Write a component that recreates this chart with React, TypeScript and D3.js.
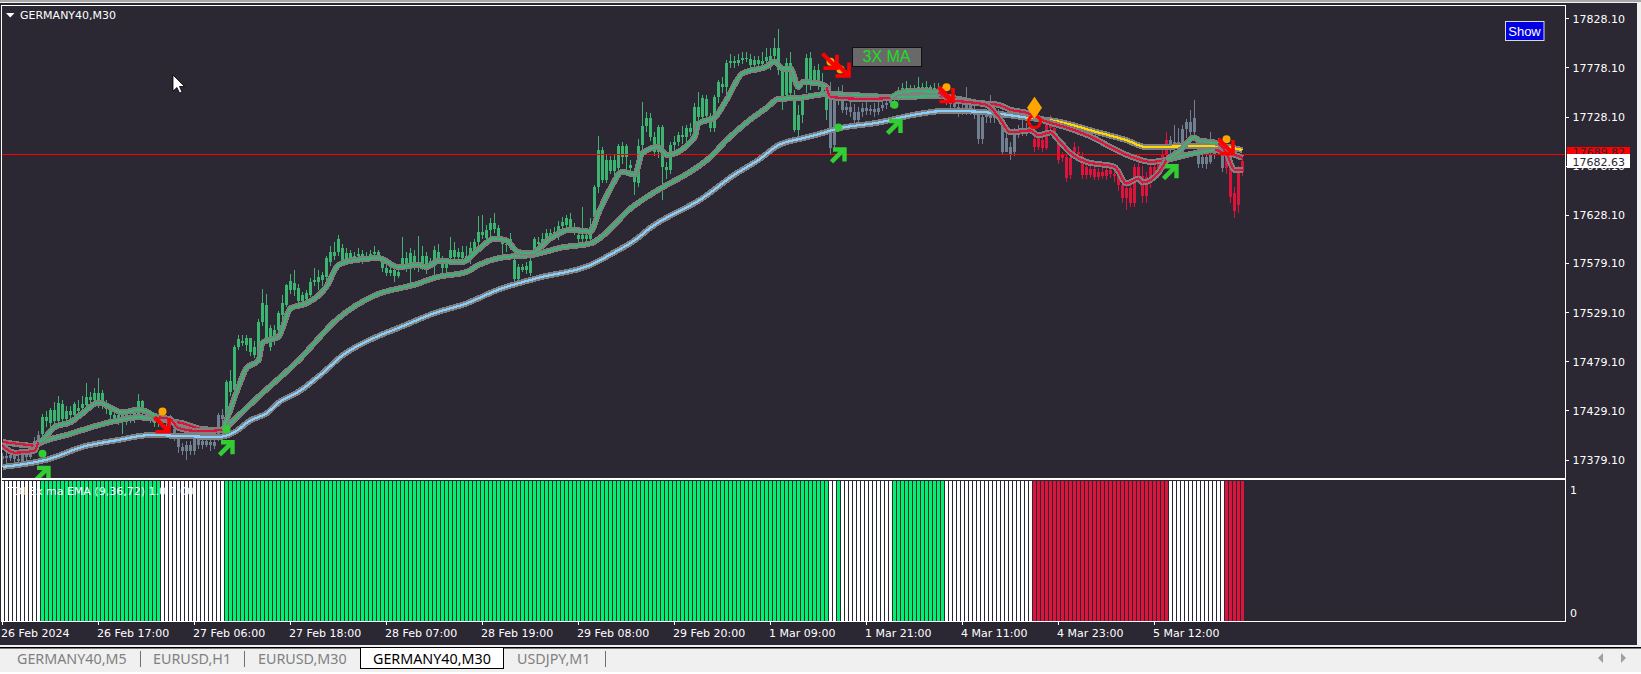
import * as d3 from "d3";

const width = 1641;
const height = 674;
const bg = "#2b2733";
const priceBase = 17000;

// price axis
const priceTicks = [17828.1, 17778.1, 17728.1, 17678.1, 17628.1, 17579.1, 17529.1, 17479.1, 17429.1, 17379.1];
const bidPrice = 17689.82;
const lastPrice = 17682.63;

// time axis, one label every 24 bars
const timeLabels = [
  "26 Feb 2024", "26 Feb 17:00", "27 Feb 06:00", "27 Feb 18:00", "28 Feb 07:00", "28 Feb 19:00", "29 Feb 08:00",
  "29 Feb 20:00", "1 Mar 09:00", "1 Mar 21:00", "4 Mar 11:00", "4 Mar 23:00", "5 Mar 12:00",
];
const tabNames = ["GERMANY40,M5", "EURUSD,H1", "EURUSD,M30", "GERMANY40,M30", "USDJPY,M1"];

// indicator state per run of bars
const stateNames = ["flat", "up", "flat", "up", "flat", "up", "flat", "up", "flat", "down", "flat", "down"];
const stateCounts = [10, 30, 16, 151, 2, 1, 13, 13, 22, 34, 14, 5];

// open, close, high, low minus priceBase
const ohlcFeb26: number[][] = [
  [380,383,386,372],[383,381,388,376],[381,384,390,378],[384,380,387,375],[380,378,384,373],[378,384,387,376],[384,382,388,378],[382,386,390,380],
  [386,398,402,385],[398,404,408,396],[405,422,425,400],[422,418,428,412],[416,429,432,412],[429,418,438,414],[418,437,444,410],[436,420,440,412],
  [420,428,434,418],[428,424,434,420],[424,436,438,420],[428,432,440,424],[432,436,444,428],[435,443,457,430],[443,440,448,434],[440,447,452,436],
  [438,447,462,432],[447,436,450,430],[436,430,440,425],[430,424,433,419],[424,420,428,415],[420,424,428,414],[424,418,430,405],[418,424,428,414],
  [424,420,430,416],[420,426,430,416],[425,439,446,422],[439,427,440,424],[427,425,432,420],[425,421,428,416],[421,416,424,412],[416,420,424,412],
  [420,418,424,412],[418,416,422,410],[416,420,424,412],[410,404,414,398],[404,392,406,386],[392,388,396,384],[388,394,398,379],[394,388,398,384],
];
const ohlcFeb27: number[][] = [
  [388,400,404,384],[400,394,406,390],[394,398,402,390],[398,394,402,392],[394,397,400,388],[397,393,400,390],[400,424,426,398],[424,420,430,415],
  [420,458,460,418],[459,448,470,444],[450,494,496,440],[494,502,506,491],[498,500,506,495],[503,496,506,490],[503,488,503,484],[485,494,500,482],
  [484,519,522,480],[519,538,553,515],[536,501,548,498],[494,513,516,490],[511,500,516,496],[511,528,530,508],[526,538,546,522],[536,557,558,534],
  [552,561,568,548],[559,552,572,545],[554,540,558,534],[540,547,550,536],[542,549,552,538],[547,560,564,544],[560,562,574,556],[560,565,572,552],
  [562,567,570,556],[565,584,586,562],[580,590,596,576],[590,586,600,582],[590,603,608,586],[594,582,598,578],[582,589,594,578],[589,584,592,578],
  [584,586,590,580],[586,588,594,582],[588,584,592,578],[584,586,590,580],[586,588,592,582],[588,590,596,584],[590,586,592,582],[580,574,584,570],
];
const ohlcFeb28: number[][] = [
  [574,569,578,566],[569,572,576,566],[572,566,578,560],[566,570,574,564],[577,584,606,572],[584,578,590,570],[589,574,594,556],[574,586,592,572],
  [574,579,607,570],[579,586,596,572],[586,578,590,568],[578,581,584,574],[581,592,596,566],[590,583,598,578],[583,574,586,568],[574,580,584,570],
  [584,592,606,578],[592,585,600,578],[585,590,594,580],[590,584,596,578],[584,586,596,580],[586,594,600,578],[590,600,604,586],[600,611,627,596],
  [611,608,628,604],[605,613,618,600],[613,620,625,606],[620,614,630,610],[615,602,618,600],[602,598,604,586],[598,597,604,590],[597,604,610,592],
  [582,563,584,560],[563,575,578,558],[575,572,578,570],[572,576,580,568],[581,569,586,566],[590,603,606,586],[600,598,606,592],[598,604,610,594],
  [604,610,614,600],[610,607,614,602],[607,611,616,602],[606,617,622,602],[617,621,626,612],[618,625,628,614],[624,615,630,612],[615,612,620,608],
];
const ohlcFeb29: number[][] = [
  [608,604,612,600],[604,608,636,600],[608,604,614,600],[604,616,625,600],[626,656,658,618],[656,694,708,650],[694,664,697,660],[664,684,690,660],
  [684,673,688,670],[673,684,690,662],[676,698,700,672],[698,687,702,680],[687,698,700,674],[676,679,684,670],[669,661,673,648],[660,698,705,656],
  [699,719,743,695],[719,727,733,712],[727,707,732,703],[707,692,712,688],[692,717,720,686],[717,677,720,643],[677,674,682,665],[674,699,702,670],
  [699,702,708,694],[702,709,712,698],[709,707,718,700],[707,716,720,702],[716,712,722,708],[712,738,742,708],[738,728,753,722],[728,747,750,722],
  [746,729,750,724],[729,716,732,712],[716,748,750,712],[748,763,765,742],[761,758,768,752],[758,783,786,746],[783,785,792,778],[785,783,790,778],
  [783,786,792,780],[786,788,794,782],[788,787,794,784],[787,781,792,778],[781,786,790,776],[786,782,790,778],[782,785,794,778],[785,789,798,780],
];
const ohlcMar1: number[][] = [
  [785,790,798,775],[790,798,808,782],[798,775,817,770],[775,748,780,735],[750,783,788,746],[783,752,794,748],[745,714,755,712],[714,730,740,708],
  [730,745,750,722],[760,788,792,752],[788,762,794,755],[765,775,780,760],[775,762,782,755],[762,752,772,748],[755,735,760,725],[747,696,763,689],
  [699,745,750,695],[745,748,758,740],[748,735,760,732],[735,738,742,730],[738,733,745,728],[733,725,741,722],[725,733,738,720],[733,737,742,728],
  [737,734,744,730],[734,736,740,730],[736,733,742,728],[733,737,744,730],[737,740,750,734],[740,742,748,736],[742,745,750,738],[745,748,752,742],
  [748,750,758,744],[750,757,762,746],[757,752,764,748],[752,755,760,748],[755,752,760,748],[752,758,768,750],[758,755,762,750],[755,758,764,750],
  [758,753,760,748],[753,757,762,748],[757,754,762,750],[754,750,758,746],[750,745,752,740],[745,741,750,736],[741,738,746,732],[738,733,742,728],
];
const ohlcMar4: number[][] = [
  [733,736,745,730],[736,740,758,730],[740,735,744,730],[735,730,740,726],[730,705,733,700],[705,728,733,700],[728,730,736,722],[730,727,750,722],
  [727,731,735,722],[731,728,736,724],[723,692,728,690],[692,706,712,692],[697,690,702,684],[692,712,716,688],[712,710,720,706],[712,716,730,708],
  [716,714,722,708],[714,718,722,710],[705,697,712,692],[697,707,710,694],[704,696,708,692],[696,721,726,694],[721,716,730,710],[716,712,720,706],
  [701,684,704,680],[689,686,692,682],[687,666,690,662],[686,669,690,665],[697,692,702,688],[692,690,698,684],[682,669,692,665],[677,669,682,665],
  [669,675,680,666],[675,667,680,664],[667,672,676,664],[672,668,676,665],[668,674,678,664],[674,670,678,666],[670,668,676,662],[668,658,672,652],
];
const ohlcMar5: number[][] = [
  [658,645,662,640],[645,655,658,633],[655,640,660,636],[640,677,680,636],[677,668,690,664],[668,647,678,640],[647,667,672,640],[667,677,680,655],
  [677,670,682,664],[670,680,684,666],[676,690,700,672],[690,704,712,686],[704,698,708,690],[698,702,720,690],[702,691,716,686],[691,715,720,686],
  [715,723,726,706],[723,712,735,705],[712,727,745,705],[699,680,704,676],[680,687,692,676],[687,680,692,675],[682,690,712,680],[690,695,700,685],
  [695,700,706,690],[689,676,695,672],[676,686,694,670],[680,646,690,640],[650,632,656,625],[638,672,678,630],[672,682.63,686,668],
];

// moving averages: bar index and price minus priceBase, read at the turning points
const slowBars = [0,12,20,29,37,45,54,58,62,66,69,74,80,85,93,99,108,116,124,134,147,153,158,162,175,183,189,194,200,203,209,219,228,236,244,256,264,273,281,286,298,304,310];
const slowVals = [371.5,380,392,399,404,403,402,407,419,426,437,448,467,485,503,513,528,538,552,564,577,590,602,615,645,669,684,699,706,709,716,722,730,734,733,727,723,713,704,697,698,698,694];
const midBars = [0,8,10,16,24,29,34,39,45,50,55,58,64,74,84,93,103,109,116,119,124,128,132,140,147,153,156,161,165,172,177,181,186,191,194,199,206,223,234,239,244,249,252,256,261,266,273,277,283,287,291,296,303,306,310];
const midVals = [397,393,397,404,414,419,422,420,416,410,409,420,443,480,523,546,557,565,570,577,584,586,587,595,599,618,631,646,656,672,687,704,722,737,746,747,751,748,749,746,742,740,735,732,723,717,706,697,686,682,684,689,694,692,686];
const fastBars = [0,3,8,9,10,13,17,20,24,27,30,34,39,42,44,49,55,56,59,61,64,65,69,72,76,81,84,88,94,99,104,106,109,115,119,123,126,129,132,137,142,147,149,152,155,158,160,164,166,173,174,178,181,185,191,193,195,197,199,200,204,206,207,216,222,224,228,234,237,241,246,249,252,257,259,262,264,267,271,278,281,284,285,289,291,294,298,299,304,306,308,310];
const fastVals = [393,386,388,397,399,412,417,426,437,432,427,430,422,420,411,408,409,419,453,472,480,498,504,533,538,555,577,582,584,575,577,575,581,580,593,604,602,590,589,604,613,611,630,655,672,669,691,697,689,707,721,727,745,772,779,784,777,777,758,763,762,758,748,746,747,752,754,753,745,743,740,728,712,714,709,712,704,691,682,677,660,665,661,671,684,692,707,704,701,691,674,674];

// colour runs of each moving average, as [first bar, last bar]
const fastRed = [[0,9],[42,55],[207,223],[237,291],[306,310]];
const fastGreen = [[10,41],[56,206],[224,236],[292,305]];
const midRed = [[0,9],[40,55],[237,291],[306,310]];
const midGreen = [[10,39],[56,236],[292,305]];
const slowSky = [[0,258]];
const slowGold = [[259,310]];

// signal markers: bar index and price minus priceBase
const greenArrowBars = [10,56,209,223,292];
const greenArrowVals = [365,391,689,718,672];
const greenDotBars = [10,56,209,223];
const greenDotVals = [385,410,717,740];
const redArrowBars = [40,207,210,236,306];
const redArrowVals = [414,784,776,750,697];
const orangeDotBars = [40,207,209.5,236,306];
const orangeDotVals = [428,784,776,758,705];

const states = stateNames.flatMap((s, i) => d3.range(stateCounts[i]).map(() => s));
const ohlc = [...ohlcFeb26, ...ohlcFeb27, ...ohlcFeb28, ...ohlcFeb29, ...ohlcMar1, ...ohlcMar4, ...ohlcMar5];

const x = d3.scaleLinear().domain([0, 310]).range([2.5, 1242.5]);
const y = d3.scaleLinear().domain([17379.1, 17828.1]).range([459.5, 18.3]);
const yInd = d3.scaleLinear().domain([-0.065, 1.065]).range([621, 481]);

const candleColor: Record<string, string> = { flat: "#708090", up: "#3cb371", down: "#dc143c" };
const barColor: Record<string, string> = { flat: "#ffffff", up: "#00f070", down: "#dc143c" };

const maLine = d3
  .line<[number, number]>()
  .x(d => x(d[0]))
  .y(d => y(priceBase + d[1]))
  .curve(d3.curveMonotoneX);

function zipped(bars: number[], vals: number[]): [number, number][] {
  return bars.map((b, i) => [b, vals[i]]);
}

// one piece per run, joined to the last knot before it
function piece(pts: [number, number][], run: number[]) {
  const inside = pts.filter(p => p[0] >= run[0] && p[0] <= run[1]);
  const prev = pts.filter(p => p[0] < run[0]).pop();
  return maLine(prev ? [prev, ...inside] : inside) || undefined;
}

const uiFont = "'DejaVu Sans', sans-serif";

function MaTrace({ bars, vals, runs }: { bars: number[]; vals: number[]; runs: { color: string; list: number[][] }[] }) {
  const pts = zipped(bars, vals);
  return (
    <g fill="none" shapeRendering="crispEdges">
      <path d={maLine(pts) || undefined} stroke="#808080" strokeWidth={6} />
      {runs.map(r =>
        r.list.map((run, i) => <path key={r.color + i} d={piece(pts, run)} stroke={r.color} strokeWidth={2.2} />)
      )}
    </g>
  );
}

export default function App() {
  const tabX = [17, 153, 258, 373, 517];
  const tabSeps = [140, 244, 605];
  return (
    <svg width={width} height={height} style={{ position: "absolute", left: 0, top: 0, display: "block" }}>
      <defs>
        <clipPath id="mainPane">
          <rect x={2} y={6} width={1563} height={472} />
        </clipPath>
      </defs>
      <rect width={width} height={height} fill="#f0f0f0" />
      <rect width={width} height={2} fill="#a8a8a8" />
      <rect y={3} width={1637} height={642} fill={bg} />
      <rect y={647} width={1641} height={1.5} fill="#000" />
      <rect y={672} width={1641} height={2} fill="#fff" />

      {/* panes */}
      <g fill="none" stroke="#fff" shapeRendering="crispEdges">
        <rect x={1.5} y={5.5} width={1564} height={473} />
        <rect x={1.5} y={479.5} width={1564} height={141.5} />
      </g>

      {/* indicator histogram */}
      <g shapeRendering="crispEdges">
        {states.map((s, i) => (
          <rect key={i} x={x(i) - 1.5} width={3} y={yInd(1.065)} height={yInd(-0.065) - yInd(1.065)} fill={barColor[s]} />
        ))}
      </g>
      <text x={7} y={495} fill="#fff" fontFamily={uiFont} fontSize={11}>TDI 3x ma EMA (9,36,72) 1.0 1.00</text>

      {/* candles */}
      <g clipPath="url(#mainPane)">
        <g shapeRendering="crispEdges">
          {ohlc.map(([o, c, h, l], i) => (
            <g key={i} fill={candleColor[states[i]]}>
              <rect x={x(i) - 0.5} width={1} y={y(priceBase + h)} height={y(priceBase + l) - y(priceBase + h)} />
              <rect
                x={x(i) - 1.5}
                width={3}
                y={y(priceBase + Math.max(o, c))}
                height={Math.max(1, Math.abs(y(priceBase + o) - y(priceBase + c)))}
              />
            </g>
          ))}
        </g>
        <line x1={2} x2={1565} y1={y(bidPrice)} y2={y(bidPrice)} stroke="#ff0000" shapeRendering="crispEdges" />

        <MaTrace bars={slowBars} vals={slowVals} runs={[{ color: "#87cefa", list: slowSky }, { color: "#ffd700", list: slowGold }]} />
        <MaTrace bars={midBars} vals={midVals} runs={[{ color: "#dc143c", list: midRed }, { color: "#3cb371", list: midGreen }]} />
        <MaTrace bars={fastBars} vals={fastVals} runs={[{ color: "#dc143c", list: fastRed }, { color: "#3cb371", list: fastGreen }]} />

        {/* signals */}
        {orangeDotBars.map((b, i) => (
          <circle key={i} cx={x(b)} cy={y(priceBase + orangeDotVals[i])} r={4} fill="#ffa500" />
        ))}
        {redArrowBars.map((b, i) => (
          <g key={i} transform={`translate(${x(b)},${y(priceBase + redArrowVals[i])})`} fill="none" stroke="#ff0000">
            <line x1={-8} y1={-8} x2={6} y2={6} strokeWidth={4.2} />
            <polyline points="-7,6.5 6.5,6.5 6.5,-7" strokeWidth={3.6} />
          </g>
        ))}
        {greenArrowBars.map((b, i) => (
          <g key={i} transform={`translate(${x(b)},${y(priceBase + greenArrowVals[i])})`} fill="none" stroke="#32cd32">
            <line x1={-7} y1={7} x2={5} y2={-5} strokeWidth={4.6} />
            <polyline points="-5.5,-5.5 6,-5.5 6,6.5" strokeWidth={4.4} />
          </g>
        ))}
        {greenDotBars.map((b, i) => (
          <circle key={i} cx={x(b)} cy={y(priceBase + greenDotVals[i])} r={4} fill="#32cd32" />
        ))}
        <g transform={`translate(${x(258)},${y(priceBase + 723)})`}>
          <circle r={6} fill="none" stroke="#ff0000" strokeWidth={3} />
        </g>
        <g transform={`translate(${x(258)},${y(priceBase + 737)})`}>
          <path d={d3.line()([[0, -11], [7.5, 0], [0, 11], [-7.5, 0]]) + "Z"} fill="#ffa500" />
        </g>
      </g>

      {/* chart title and objects */}
      <path d="M6,13 h8.5 l-4.25,4.5 z" fill="#fff" />
      <text x={20} y={19} fill="#fff" fontFamily={uiFont} fontSize={11}>GERMANY40,M30</text>
      <path d="M173,75 v16 l4,-3.5 l2.5,5.5 l2.5,-1 l-2.5,-5.5 h5 z" fill="#fff" stroke="#000" strokeWidth={0.8} />

      <rect x={852.5} y={47.5} width={69} height={19} fill="#696969" stroke="#111" />
      <text x={886.5} y={62} textAnchor="middle" fill="#22dd22" fontFamily="'Liberation Sans', sans-serif" fontSize={16}>3X MA</text>

      <rect x={1505.5} y={21.5} width={38.5} height={19} fill="#0000e0" stroke="#d8d8d8" />
      <text x={1524.5} y={35.5} textAnchor="middle" fill="#fff" fontFamily="'Liberation Sans', sans-serif" fontSize={13}>Show</text>

      {/* price axis */}
      <g fontFamily={uiFont} fontSize={11} fill="#fff">
        {priceTicks.map(p => (
          <g key={p}>
            <line x1={1566} x2={1569} y1={Math.round(y(p)) + 0.5} y2={Math.round(y(p)) + 0.5} stroke="#fff" />
            <text x={1572.5} y={y(p) + 4.5}>{p.toFixed(2)}</text>
          </g>
        ))}
        <rect x={1567} y={147} width={63} height={8} fill="#ff0000" />
        <text x={1572.5} y={156} fill="#2b2733">{bidPrice.toFixed(2)}</text>
        <rect x={1567} y={154} width={63} height={14} fill="#fff" />
        <text x={1572.5} y={165.5} fill="#2b2733">{lastPrice.toFixed(2)}</text>
        {[0, 1].map(v => (
          <text key={v} x={1570} y={yInd(v) + 4.5}>{v}</text>
        ))}
      </g>

      {/* time axis */}
      <g fontFamily={uiFont} fontSize={11} fill="#fff">
        {timeLabels.map((t, i) => (
          <g key={t}>
            <line x1={Math.floor(x(i * 24)) + 0.5} x2={Math.floor(x(i * 24)) + 0.5} y1={621} y2={625} stroke="#fff" />
            <text x={x(i * 24) - 1.5} y={637}>{t}</text>
          </g>
        ))}
      </g>

      {/* terminal tabs */}
      <rect x={360.5} y={647.5} width={143} height={21} fill="#fff" stroke="#000" />
      <g fontFamily="'Noto Sans', sans-serif" fontSize={14.3}>
        {tabNames.map((t, i) => (
          <text key={t} x={tabX[i]} y={664} fill={i === 3 ? "#000" : "#808080"}>{t}</text>
        ))}
      </g>
      {tabSeps.map(s => (
        <line key={s} x1={s + 0.5} x2={s + 0.5} y1={651} y2={667} stroke="#707070" />
      ))}
      <path d="M1603,653 v10 l-5,-5 z" fill="#a0a0a0" />
      <path d="M1621,653 v10 l5,-5 z" fill="#a0a0a0" />
    </svg>
  );
}
